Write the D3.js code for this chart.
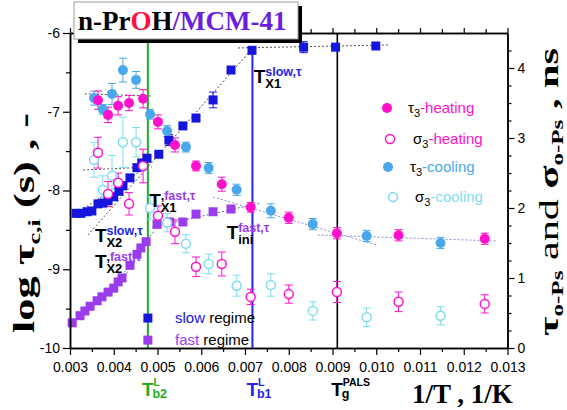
<!DOCTYPE html>
<html><head><meta charset="utf-8">
<script src="https://cdn.jsdelivr.net/npm/d3@7"></script>
<style>body{margin:0;background:#fff}svg{display:block}</style>
</head><body><svg id="c" width="567" height="410"></svg>
<script>
// ---------- data ----------
const xTickVals = [0.003,0.004,0.005,0.006,0.007,0.008,0.009,0.010,0.011,0.012,0.013];
const leftTickVals = [-10,-9,-8,-7,-6];
const rightTickVals = [0,1,2,3,4];

// slow regime (left axis, log tau)
const slowX = [0.00314,0.00325,0.00339,0.00350,0.00364,0.00375,0.00387,0.00400,0.00412,0.00421,0.00437,0.00453,0.00464,0.00476,0.00503,0.00526,0.00558,0.00588,0.00627,0.00668,0.00716,0.00834,0.00907,0.00999];
const slowY = [-8.29,-8.29,-8.27,-8.26,-8.17,-8.16,-8.13,-8.08,-8.01,-7.94,-7.84,-7.71,-7.65,-7.59,-7.54,-7.36,-7.18,-7.08,-6.85,-6.47,-6.22,-6.18,-6.18,-6.165];
const slowErr = [0,0,0,0,0,0,0,0,0,0,0,0,0,0,0,0.07,0,0,0.1,0,0,0.07,0,0];

// fast regime (left axis)
const fastX = [0.00305,0.00323,0.00334,0.00346,0.00362,0.00373,0.00387,0.00400,0.00410,0.00419,0.00437,0.00453,0.00462,0.00474,0.00499,0.00528,0.00558,0.00588,0.00627,0.00668];
const fastY = [-9.68,-9.59,-9.53,-9.47,-9.40,-9.35,-9.29,-9.24,-9.16,-9.11,-8.95,-8.81,-8.73,-8.65,-8.43,-8.40,-8.40,-8.30,-8.27,-8.235];

// right axis: tau3 / sigma3 heating
const heatX = [0.00364,0.00387,0.00410,0.00435,0.00467,0.00501,0.00540,0.00588,0.00647,0.00713,0.00800,0.00910,0.01051,0.01248];
const tauHeat = [3.54,3.33,3.46,3.50,3.56,3.23,2.90,2.60,2.34,2.01,1.86,1.64,1.61,1.56];
const tauHeatErr = [0.13,0.11,0.13,0.11,0.13,0.10,0.10,0.07,0.10,0.07,0.08,0.08,0.08,0.08];
const sigHeat = [2.79,2.20,2.36,2.06,2.60,1.89,1.66,1.16,1.20,0.73,0.77,0.80,0.66,0.63];
const sigHeatErr = [0.22,0.18,0.14,0.16,0.24,0.14,0.17,0.14,0.17,0.11,0.13,0.15,0.14,0.13];

// right axis: tau3 / sigma3 cooling
const coolX = [0.00355,0.00375,0.00396,0.00421,0.00451,0.00483,0.00522,0.00565,0.00617,0.00681,0.00759,0.00855,0.00978,0.01147];
const tauCool = [3.57,3.41,3.63,3.97,3.83,3.34,3.10,2.87,2.57,2.26,1.96,1.77,1.60,1.50];
const tauCoolErr = [0.10,0.07,0.15,0.17,0.12,0.07,0.08,0.07,0.08,0.08,0.10,0.08,0.08,0.08];
const sigCool = [2.69,2.26,2.46,2.94,2.94,2.00,1.79,1.49,1.20,0.89,0.90,0.53,0.44,0.46];
const sigCoolErr = [0.25,0.20,0.29,0.36,0.21,0.16,0.13,0.13,0.14,0.15,0.16,0.13,0.13,0.13];

// fit / guide lines (x1,y1,x2,y2) in data units
const fitLeftGray = [[0.00684,-6.19,0.0103,-6.152],[0.00341,-8.565,0.00722,-6.165],[0.003,-8.345,0.00471,-7.714]];
const fitLeftBlue = [[0.003,-9.70,0.00432,-9.035],[0.00387,-9.327,0.00494,-8.502],[0.00487,-8.467,0.00734,-8.162]];
const fitRightGray = [[0.00334,3.63,0.00487,3.60],[0.00330,2.543,0.00487,2.586]];
const fitRightLav = [[0.00627,2.157,0.01001,1.471],[0.00866,1.614,0.01277,1.529]];

// reference temperatures (1/T)
const refX = [0.00478,0.00717,0.00911];

// ---------- drawing ----------
const svg = d3.select("#c");
const x = d3.scaleLinear().domain([0.003,0.013]).range([70,507.5]);
const yL = d3.scaleLinear().domain([-10,-6]).range([348,33]);
const yR = d3.scaleLinear().domain([0,4.5]).range([348,33]);
const SANS = "'Liberation Sans', Arial, sans-serif";
const SERIF = "'Liberation Serif', 'Times New Roman', serif";

const C = {slow:"#1515dd", fast:"#9a3cec", heat:"#ff11cc", cool:"#4aa8ea", sigCool:"#7fdcf0", green:"#1fae1f", blue:"#2525ee"};

// reference lines
const refCol = [C.green, C.blue, "#000"];
const refTop = [-6, yL.invert(50), -6];
refX.forEach((v,i)=>{
  svg.append("line").attr("x1",x(v)).attr("x2",x(v)).attr("y1",yL(refTop[i])).attr("y2",348)
    .attr("stroke",refCol[i]).attr("stroke-width",i==2?1.6:2);
});

// fit lines
function fitLines(arr, ys, col){
  arr.forEach(d=>svg.append("line").attr("x1",x(d[0])).attr("y1",ys(d[1])).attr("x2",x(d[2])).attr("y2",ys(d[3]))
    .attr("stroke",col).attr("stroke-width",1).attr("stroke-dasharray","2,2"));
}
fitLines(fitLeftGray, yL, "#555");
fitLines(fitLeftBlue, yL, "#5a6aaa");
fitLines(fitRightGray, yR, "#555");
fitLines(fitRightLav, yR, "#8a8ad8");

// error bars
function errBars(xs, vs, es, ys, col){
  xs.forEach((xv,i)=>{
    const e = es[i]; if(!e) return;
    const cx = x(xv), y1 = ys(vs[i]-e), y2 = ys(vs[i]+e);
    const g = svg.append("g").attr("stroke",col).attr("stroke-width",1);
    g.append("line").attr("x1",cx).attr("x2",cx).attr("y1",y1).attr("y2",y2);
    g.append("line").attr("x1",cx-4).attr("x2",cx+4).attr("y1",y1).attr("y2",y1);
    g.append("line").attr("x1",cx-4).attr("x2",cx+4).attr("y1",y2).attr("y2",y2);
  });
}
errBars(slowX, slowY, slowErr, yL, C.slow);
errBars(coolX, sigCool, sigCoolErr, yR, C.sigCool);
errBars(heatX, sigHeat, sigHeatErr, yR, C.heat);
errBars(coolX, tauCool, tauCoolErr, yR, C.cool);
errBars(heatX, tauHeat, tauHeatErr, yR, C.heat);

// squares
function squares(xs, vs, col){
  svg.append("g").selectAll("rect").data(xs).join("rect")
    .attr("x",(d)=>x(d)-4.5).attr("y",(d,i)=>yL(vs[i])-4.5).attr("width",9).attr("height",9).attr("fill",col);
}
squares(fastX, fastY, C.fast);
squares(slowX, slowY, C.slow);

// circles
function circles(xs, vs, col, open){
  svg.append("g").selectAll("circle").data(xs).join("circle")
    .attr("cx",d=>x(d)).attr("cy",(d,i)=>yR(vs[i])).attr("r",open?4.5:5)
    .attr("fill",open?"#fff":col).attr("stroke",col).attr("stroke-width",open?1.5:0);
}
circles(coolX, sigCool, C.sigCool, true);
circles(heatX, sigHeat, C.heat, true);
circles(coolX, tauCool, C.cool, false);
circles(heatX, tauHeat, C.heat, false);

// axes
function styleAxis(g){
  g.selectAll("path.domain").attr("stroke","#000").attr("stroke-width",1.5);
  g.selectAll(".tick line").attr("stroke","#000").attr("stroke-width",1.2);
  g.selectAll("text").attr("font-family",SANS).attr("font-size",14).attr("fill","#000");
}
const xMinor = d3.range(0.0035,0.013,0.001);
const yMinorL = [-9.5,-8.5,-7.5,-6.5];
const rMinor = d3.range(0.25,4.5,0.25).filter(v=>Math.abs(v-Math.round(v))>0.01);

svg.append("g").attr("transform","translate(0,348)")
  .call(d3.axisBottom(x).tickValues(xMinor).tickSize(4).tickFormat("").tickSizeOuter(0)).call(styleAxis);
svg.append("g").attr("transform","translate(0,348)")
  .call(d3.axisBottom(x).tickValues(xTickVals).tickSize(7).tickPadding(7).tickFormat(d3.format(".3f")).tickSizeOuter(0)).call(styleAxis);
svg.append("g").attr("transform","translate(0,33)")
  .call(d3.axisTop(x).tickValues(xMinor).tickSize(4).tickFormat("").tickSizeOuter(0)).call(styleAxis);
svg.append("g").attr("transform","translate(0,33)")
  .call(d3.axisTop(x).tickValues(xTickVals).tickSize(5).tickFormat("").tickSizeOuter(0)).call(styleAxis);
svg.append("g").attr("transform","translate(70,0)")
  .call(d3.axisLeft(yL).tickValues(yMinorL).tickSize(4).tickFormat("").tickSizeOuter(0)).call(styleAxis);
svg.append("g").attr("transform","translate(70,0)")
  .call(d3.axisLeft(yL).tickValues(leftTickVals).tickSize(7).tickPadding(3).tickFormat(d=>String(d)).tickSizeOuter(0)).call(styleAxis);
svg.append("g").attr("transform","translate(507.5,0)")
  .call(d3.axisRight(yR).tickValues(rMinor).tickSize(4).tickFormat("").tickSizeOuter(0)).call(styleAxis);
svg.append("g").attr("transform","translate(507.5,0)")
  .call(d3.axisRight(yR).tickValues(rightTickVals).tickSize(7).tickPadding(3).tickFormat(d=>String(d)).tickSizeOuter(0)).call(styleAxis);

// annotation labels T^sup_sub
function tLabel(xv, yv, sup, supCol, sub, comma){
  const px = x(xv), py = yL(yv);
  const g = svg.append("g").attr("font-family",SANS).attr("font-weight","bold");
  g.append("text").attr("x",px).attr("y",py).attr("font-size",19).text("T");
  const t = g.append("text").attr("x",px+11.5).attr("y",py-7).attr("font-size",12.5);
  if(comma) t.append("tspan").attr("fill","#000").text(",");
  t.append("tspan").attr("fill",supCol).text(sup);
  g.append("text").attr("x",px+11.5).attr("y",py+5).attr("font-size",13).text(sub);
}
tLabel(0.00720,-6.635,"slow,τ",C.blue,"X1",false);
tLabel(0.00481,-8.21,"fast,τ",C.fast,"X1",true);
tLabel(0.00357,-8.654,"slow,τ",C.blue,"X2",false);
tLabel(0.00357,-8.984,"fast,τ",C.fast,"X2",true);
tLabel(0.00658,-8.616,"fast,τ",C.fast,"ini",false);

// regime legend
const regLeg = [["slow",C.slow,-9.62],["fast",C.fast,-9.9]];
regLeg.forEach(d=>{
  const py = yL(d[2]);
  svg.append("rect").attr("x",x(0.00478)-4.5).attr("y",py-4.5).attr("width",9).attr("height",9).attr("fill",d[1]);
  const t = svg.append("text").attr("x",175).attr("y",py+5).attr("font-family",SANS).attr("font-size",15);
  t.append("tspan").attr("fill",d[1]).text(d[0]);
  t.append("tspan").attr("fill","#000").text(" regime");
});

// right legend
const rLeg = [["τ","-heating",C.heat,false,387,108,408],["σ","-heating",C.heat,true,390,139,413],["τ","-cooling",C.cool,false,388,167,410],["σ","-cooling",C.sigCool,true,393,197,415]];
rLeg.forEach(d=>{
  svg.append("circle").attr("cx",d[4]).attr("cy",d[5]).attr("r",d[3]?4.5:5)
    .attr("fill",d[3]?"#fff":d[2]).attr("stroke",d[2]).attr("stroke-width",d[3]?1.5:0);
  const t = svg.append("text").attr("x",d[6]).attr("y",d[5]+5).attr("font-family",SANS).attr("font-size",15);
  t.append("tspan").attr("fill","#000").text(d[0]);
  t.append("tspan").attr("fill","#000").attr("font-size",11).attr("dy",4).text("3");
  t.append("tspan").attr("fill",d[2]).attr("dy",-4).text(d[1]);
});

// bottom reference labels
const refLab = [["L","b2",C.green],["L","b1",C.blue],["PALS","g","#000"]];
refLab.forEach((d,i)=>{
  const px = x(refX[i]) - 6;
  const g = svg.append("g").attr("font-family",SANS).attr("font-weight","bold").attr("fill",d[2]);
  g.append("text").attr("x",px).attr("y",396).attr("font-size",19).text("T");
  g.append("text").attr("x",px+11.5).attr("y",386).attr("font-size",10.5).text(d[0]);
  g.append("text").attr("x",px+10.5).attr("y",398).attr("font-size",12.5).text(d[1]);
});

// axis titles
svg.append("text").attr("x",412).attr("y",403).attr("font-family",SERIF).attr("font-weight","bold")
  .attr("font-size",27).text("1/T , 1/K");

const lt = svg.append("text").attr("transform","translate(34,223) rotate(-90)").attr("text-anchor","middle")
  .attr("font-family",SERIF).attr("font-weight","bold").attr("font-size",29)
  .attr("textLength",220).attr("lengthAdjust","spacingAndGlyphs");
lt.append("tspan").text("log τ");
lt.append("tspan").attr("font-size",17).attr("dy",6).text("c,i");
lt.append("tspan").attr("dy",-6).text(" (s) , -");

const rt = svg.append("text").attr("transform","translate(558,192) rotate(-90)").attr("text-anchor","middle")
  .attr("font-family",SERIF).attr("font-size",27)
  .attr("textLength",288).attr("lengthAdjust","spacingAndGlyphs");
rt.append("tspan").attr("font-weight","bold").text("τ");
rt.append("tspan").attr("font-weight","bold").attr("font-size",16).attr("dy",5).text("o-Ps");
rt.append("tspan").attr("dy",-5).text(" and ");
rt.append("tspan").attr("font-weight","bold").text("σ");
rt.append("tspan").attr("font-weight","bold").attr("font-size",16).attr("dy",5).text("o-Ps");
rt.append("tspan").attr("font-weight","bold").attr("dy",-5).text(" , ns");

// title box
svg.append("rect").attr("x",78).attr("y",6).attr("width",224).attr("height",37).attr("fill","#000");
svg.append("rect").attr("x",74).attr("y",2).attr("width",224).attr("height",37).attr("fill","#fff").attr("stroke","#999").attr("stroke-width",1);
const tt = svg.append("text").attr("x",78).attr("y",30).attr("font-family",SERIF).attr("font-weight","bold").attr("font-size",27);
tt.append("tspan").attr("fill","#000").text("n-Pr");
tt.append("tspan").attr("fill","#ff1040").text("O");
tt.append("tspan").attr("fill","#000").text("H");
tt.append("tspan").attr("fill","#6a1ee0").text("/MCM-41");
</script>
</body></html>
